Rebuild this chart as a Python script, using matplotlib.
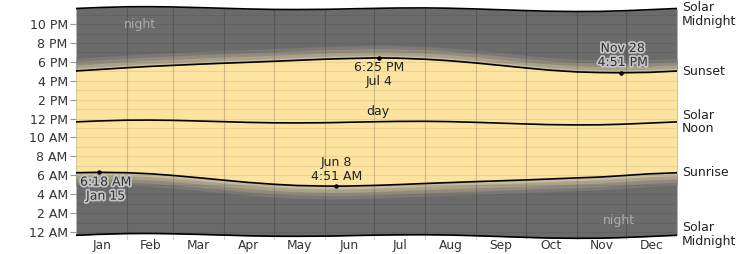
import numpy as np
import matplotlib.pyplot as plt
import matplotlib.patheffects as pe
from matplotlib.transforms import blended_transform_factory

# Datos (horas del dia, dia del año desde el 1 de enero = 0)
days = [0, 14, 31, 45, 59, 73, 90, 104, 120, 134, 151, 158, 165, 181, 184, 195,
        212, 226, 243, 257, 273, 287, 304, 318, 331, 334, 348, 365]
sunrise = [6.27, 6.31, 6.27, 6.16, 5.98, 5.76, 5.48, 5.25, 5.05, 4.92, 4.855, 4.85,
           4.86, 4.925, 4.94, 5.01, 5.13, 5.22, 5.33, 5.41, 5.505, 5.60, 5.72, 5.81,
           5.95, 5.985, 6.15, 6.265]
sunset = [17.04, 17.19, 17.38, 17.52, 17.63, 17.74, 17.86, 17.95, 18.06, 18.16, 18.28,
          18.32, 18.35, 18.41, 18.417, 18.39, 18.28, 18.13, 17.88, 17.64, 17.36, 17.13,
          16.94, 16.87, 16.85, 16.855, 16.89, 17.03]
noon = [11.65, 11.75, 11.83, 11.84, 11.81, 11.75, 11.67, 11.60, 11.55, 11.54, 11.56,
        11.58, 11.61, 11.66, 11.67, 11.70, 11.71, 11.68, 11.60, 11.52, 11.43, 11.36,
        11.33, 11.34, 11.40, 11.42, 11.52, 11.65]

months = ["Jan", "Feb", "Mar", "Apr", "May", "Jun", "Jul", "Aug", "Sep", "Oct", "Nov", "Dec"]
month_len = [31, 28, 31, 30, 31, 30, 31, 31, 30, 31, 30, 31]
hour_labels = ["12 AM", "2 AM", "4 AM", "6 AM", "8 AM", "10 AM",
               "12 PM", "2 PM", "4 PM", "6 PM", "8 PM", "10 PM"]

# Extremos anotados
ann_days = [14, 158, 184, 331]
ann_vals = [6.31, 4.85, 18.417, 16.85]
ann_text = ["6:18 AM\nJan 15", "Jun 8\n4:51 AM", "6:25 PM\nJul 4", "Nov 28\n4:51 PM"]

days = np.array(days, dtype=float)
sunrise = np.array(sunrise)
sunset = np.array(sunset)
noon = np.array(noon)
mid_low = noon - 12
mid_high = noon + 12

night_c = "#6b6b6b"
day_c = "#fce3a0"
twi_c = ["#c6bb9d", "#aaa18b", "#918b7f", "#7c7974"]
twi_off = [0.3, 0.65, 1.0, 1.35]

plt.rcParams["font.family"] = "DejaVu Sans"
fig = plt.figure(figsize=(7.53, 2.54), dpi=100)
ax = fig.add_axes([76 / 753, 14 / 254, 601 / 753, 237 / 254])

# Noche
ax.fill_between(days, mid_low, mid_high, color=night_c, lw=0, zorder=1)
# Crepusculos (de afuera hacia adentro)
for off, c in zip(twi_off[::-1], twi_c[::-1]):
    ax.fill_between(days, sunrise - off, sunset + off, color=c, lw=0, zorder=2)
# Dia
ax.fill_between(days, sunrise, sunset, color=day_c, lw=0, zorder=3)

# Grillas
for h in range(0, 24):
    ax.axhline(h, color="black", alpha=0.07, lw=0.8, zorder=4)
bounds = np.cumsum([0] + month_len)
for b in bounds[1:-1]:
    top = np.interp(b, days, mid_high)
    ax.vlines(b, -0.85, top, color="black", alpha=0.18, lw=0.8, zorder=4)

# Curvas
for arr in [mid_low, sunrise, noon, sunset, mid_high]:
    ax.plot(days, arr, color="black", lw=1.2, zorder=5)

# Anotaciones
ax.scatter(ann_days, ann_vals, s=5, color="black", zorder=6)
halo = [pe.withStroke(linewidth=2.5, foreground="#c4c4c4")]
ax.text(ann_days[0] + 4, ann_vals[0] - 0.35, ann_text[0], ha="center", va="top",
        fontsize=9, color="#333333", linespacing=1.1, path_effects=halo, zorder=7)
ax.text(ann_days[1], ann_vals[1] + 0.35, ann_text[1], ha="center", va="bottom",
        fontsize=9, color="#222222", linespacing=1.1, zorder=7)
ax.text(ann_days[2], ann_vals[2] - 0.3, ann_text[2], ha="center", va="top",
        fontsize=9, color="#222222", linespacing=1.1, zorder=7)
ax.text(ann_days[3] + 1, ann_vals[3] + 0.4, ann_text[3], ha="center", va="bottom",
        fontsize=9, color="#333333", linespacing=1.1, path_effects=halo, zorder=7)

ax.text(39, 22.0, "night", ha="center", va="center", fontsize=9, color="#aaaaaa", zorder=7)
ax.text(330, 1.25, "night", ha="center", va="center", fontsize=9, color="#aaaaaa", zorder=7)
ax.text(183, 12.75, "day", ha="center", va="center", fontsize=9, color="#222222", zorder=7)

# Etiquetas a la derecha
tr = blended_transform_factory(ax.transAxes, ax.transData)
right_labels = [("Solar\nMidnight", 23.0), ("Sunset", sunset[-1]), ("Solar\nNoon", noon[-1]),
                ("Sunrise", sunrise[-1]), ("Solar\nMidnight", mid_low[-1] + 0.1)]
for txt, yv in right_labels:
    ax.text(1.008, yv, txt, transform=tr, ha="left", va="center", fontsize=9,
            color="#222222", linespacing=1.05, clip_on=False)

# Ejes
ax.set_xlim(0, 365)
ax.set_ylim(-0.85, 24.23)
ax.set_yticks(range(0, 24, 2))
ax.set_yticklabels(hour_labels)
mid_month = bounds[:-1] + np.array(month_len) / 2
ax.set_xticks(mid_month)
ax.set_xticklabels(months)
ax.tick_params(axis="x", length=0, pad=-1, labelsize=8.8, labelcolor="#333333")
ax.tick_params(axis="y", length=4, width=0.8, color="#999999", pad=2, labelsize=9,
               labelcolor="#333333")
for s in ax.spines.values():
    s.set_visible(False)

plt.savefig("out.png", dpi=100)
